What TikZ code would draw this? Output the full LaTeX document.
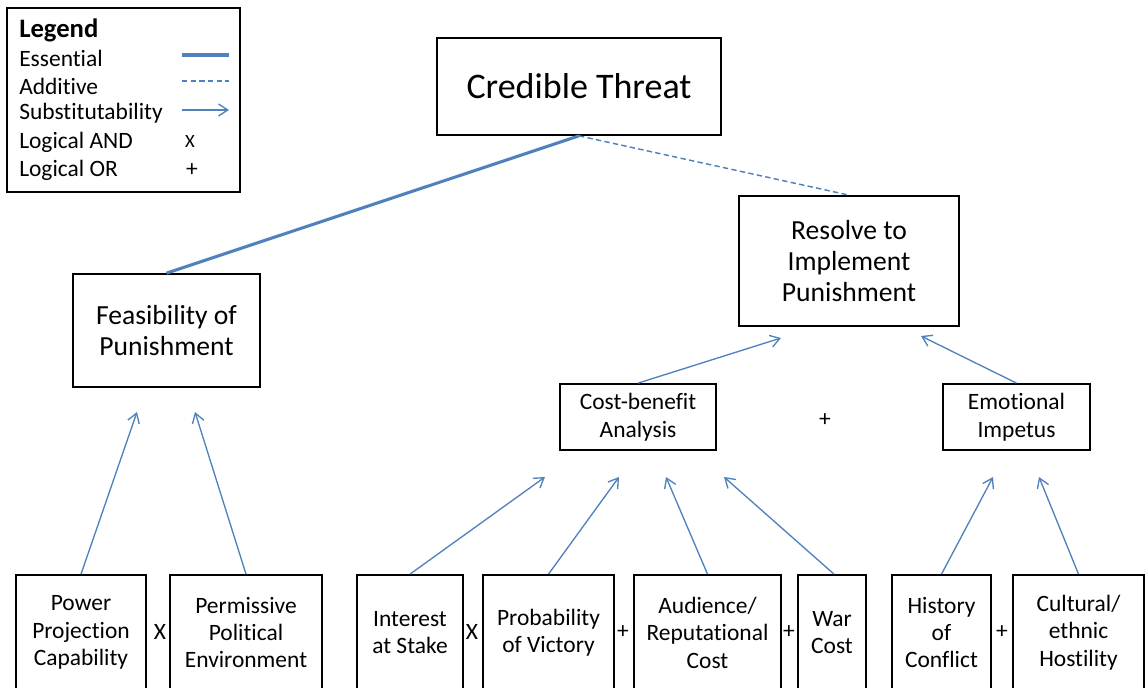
\documentclass[tikz,border=0pt]{standalone}
\usepackage{fontspec}
\setmainfont{Carlito}[Ligatures=NoCommon]
\usetikzlibrary{arrows.meta}
\definecolor{lnblue}{HTML}{4F81BD}
\tikzset{
  box/.style={draw=black, line width=1.3pt, align=center, inner sep=0pt},
  big/.style={font=\fontsize{27}{30}\selectfont},
  mid/.style={font=\fontsize{20.7}{23.25}\selectfont},
  small/.style={font=\fontsize{17.6}{20.6}\selectfont},
  cbtext/.style={font=\fontsize{17.6}{21}\selectfont},
  essential/.style={draw=lnblue, line width=2.3pt},
  additive/.style={draw=lnblue, line width=1.1pt, dash pattern=on 4pt off 2.5pt},
  subst/.style={draw=lnblue, line width=1pt, -{Straight Barb[length=7pt,width=9pt]}},
  op/.style={font=\fontsize{17.6}{20}\selectfont, inner sep=0pt},
  legtext/.style={font=\fontsize{17.6}{20}\selectfont, anchor=west, inner sep=0pt},
}
\begin{document}
\begin{tikzpicture}[x=0.75pt,y=-0.75pt]
\useasboundingbox (0,0) rectangle (1145,688);
\begin{scope}
\clip (0,0) rectangle (1145,688);
% legend
\node[box, minimum width=174.75pt, minimum height=138pt] (legend) at (123.5,100) {};
\node[legtext, font=\fontsize{20}{22}\selectfont\bfseries] (lg) at (19,30) {Legend};
\node[legtext] (l1) at (19,58) {Essential};
\node[legtext] (l2) at (19,86) {Additive};
\node[legtext] (l3) at (19,113) {Substitutability};
\node[legtext] (l4) at (19,142) {Logical AND};
\node[legtext] (l5) at (19,170) {Logical OR};
\coordinate (e1a) at (182,55); \coordinate (e1b) at (229,55);
\coordinate (e2a) at (182,81); \coordinate (e2b) at (229,81);
\coordinate (e3a) at (182,110); \coordinate (e3b) at (229,110);
\draw[essential] (e1a) -- (e1b);
\draw[additive] (e2a) -- (e2b);
\draw[subst] (e3a) -- (e3b);
\node[op, font=\fontsize{14}{16}\selectfont] (lx) at (190,142) {X};
\node[op] (lp) at (192,170) {+};

% main boxes
\node[box, big, minimum width=213pt, minimum height=72.75pt] (cred) at (579,86.5) {Credible Threat};
\node[box, mid, minimum width=165pt, minimum height=97.5pt] (res) at (849,261) {Resolve to\\Implement\\Punishment};
\node[box, mid, minimum width=140.25pt, minimum height=84.75pt] (feas) at (166.5,330.5) {Feasibility of\\Punishment};
\node[box, cbtext, minimum width=117pt, minimum height=49.5pt] (cba) at (638,417) {Cost-benefit\\Analysis};
\node[box, cbtext, minimum width=110.25pt, minimum height=49.5pt] (emo) at (1016.5,417) {Emotional\\Impetus};
\node[op] (orMid) at (825,420) {+};

% bottom boxes
\node[box, small, minimum width=97.5pt, minimum height=86.25pt] (pow) at (81,632.5) {Power\\Projection\\Capability};
\node[box, small, minimum width=114pt, minimum height=86.25pt] (perm) at (246,632.5) {Permissive\\Political\\Environment};
\node[box, small, minimum width=79.5pt, minimum height=86.25pt] (int) at (410,632.5) {Interest\\at Stake};
\node[box, small, minimum width=98.25pt, minimum height=86.25pt] (prob) at (548.5,632.5) {Probability\\of Victory};
\node[box, small, minimum width=110.25pt, minimum height=86.25pt] (aud) at (707.5,632.5) {Audience/\\Reputational\\Cost};
\node[box, small, minimum width=51pt, minimum height=86.25pt] (war) at (832,632.5) {War\\Cost};
\node[box, small, minimum width=74.25pt, minimum height=86.25pt] (hist) at (941.5,632.5) {History\\of\\Conflict};
\node[box, small, minimum width=98.25pt, minimum height=86.25pt] (cult) at (1078.5,632.5) {Cultural/\\ethnic\\Hostility};

\node[op] (and1) at (160,632) {X};
\node[op] (and2) at (472,632) {X};
\node[op] (or1) at (623,632) {+};
\node[op] (or2) at (789,632) {+};
\node[op] (or3) at (1002,632) {+};
\end{scope}

% free arrow ends
\coordinate (tPow) at (137,412);
\coordinate (tPerm) at (195,412);
\coordinate (tInt) at (545,477);
\coordinate (tProb) at (619,477);
\coordinate (tAud) at (666,477);
\coordinate (tWar) at (724,477);
\coordinate (tHist) at (993,477);
\coordinate (tCult) at (1039,477);
\coordinate (tCba) at (781,338);
\coordinate (tEmo) at (921,336);

% connectors
\draw[essential] (cred.south) -- (feas.north);
\draw[additive] (cred.south) -- (res.north);
\draw[subst] (cba.north) -- (tCba);
\draw[subst] (emo.north) -- (tEmo);
\draw[subst] (pow.north) -- (tPow);
\draw[subst] (perm.north) -- (tPerm);
\draw[subst] (int.north) -- (tInt);
\draw[subst] (prob.north) -- (tProb);
\draw[subst] (aud.north) -- (tAud);
\draw[subst] ([xshift=1.5pt]war.north) -- (tWar);
\draw[subst] (hist.north) -- (tHist);
\draw[subst] (cult.north) -- (tCult);
\end{tikzpicture}
\end{document}
